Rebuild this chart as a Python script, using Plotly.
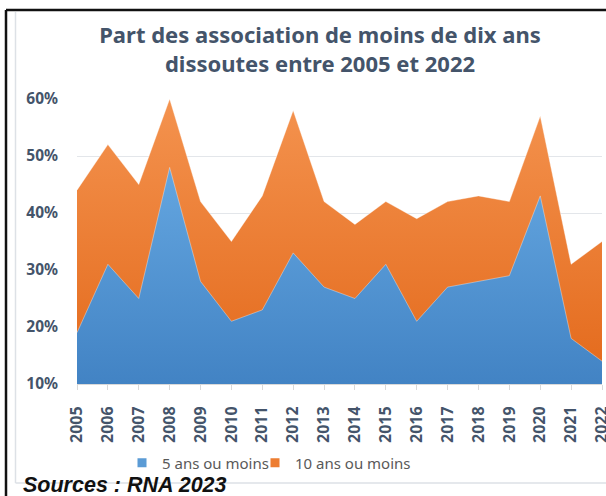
import plotly.graph_objects as go

years = [str(y) for y in range(2005, 2023)]
cinq_ans = [19, 31, 25, 48, 28, 21, 23, 33, 27, 25, 31, 21, 27, 28, 29, 43, 18, 14]
dix_ans = [44, 52, 45, 60, 42, 35, 43, 58, 42, 38, 42, 39, 42, 43, 42, 57, 31, 35]
y_ticks = [10, 20, 30, 40, 50, 60]
y_labels = ["10%", "20%", "30%", "40%", "50%", "60%"]
series_names = ["5 ans ou moins", "10 ans ou moins"]
series_colors = ["#5B9BD5", "#ED7D31"]

fig = go.Figure()
fig.add_trace(go.Scatter(
    x=years, y=dix_ans, name=series_names[1], mode="lines", showlegend=False,
    line=dict(width=0.6, color="rgba(255,255,255,0.6)"), fill="tozeroy",
    fillcolor=series_colors[1],
    fillgradient=dict(type="vertical", start=10, stop=60,
                      colorscale=[[0, "#E3691B"], [1, "#F4934F"]]),
))
fig.add_trace(go.Scatter(
    x=years, y=cinq_ans, name=series_names[0], mode="lines", showlegend=False,
    line=dict(width=0.6, color="rgba(255,255,255,0.6)"), fill="tozeroy",
    fillcolor=series_colors[0],
    fillgradient=dict(type="vertical", start=10, stop=48,
                      colorscale=[[0, "#4283C4"], [1, "#64A6E0"]]),
))
# legend entries (square swatches), one legend box each
for name, color, lg in zip(series_names, series_colors, ["legend", "legend2"]):
    fig.add_trace(go.Scatter(
        x=[None], y=[None], mode="markers", name=name, legend=lg,
        marker=dict(symbol="square", size=9, color=color),
    ))

L, R, T, B = 77, 602, 99, 384
W, H = R - L, B - T
def px(x):
    return (x - L) / W
def py(y):
    return (B - y) / H

shapes = [
    dict(type="line", xref="paper", yref="paper", x0=px(6), x1=px(606), y0=py(10), y1=py(10),
         line=dict(color="#111111", width=2.5)),
    dict(type="line", xref="paper", yref="paper", x0=px(6), x1=px(6), y0=py(10), y1=py(496),
         line=dict(color="#111111", width=2.5)),
    dict(type="line", xref="paper", yref="paper", x0=px(15.5), x1=px(15.5), y0=py(12), y1=py(483),
         line=dict(color="#DDE1E6", width=1.5)),
    dict(type="line", xref="paper", yref="paper", x0=px(15.5), x1=px(606), y0=py(483), y1=py(483),
         line=dict(color="#DDE1E6", width=1.5)),
]

legend_style = dict(
    orientation="h", xref="container", yref="container",
    xanchor="left", y=1 - 463 / 496, yanchor="middle",
    font=dict(family="Noto Sans", size=15, color="#595959"),
    itemwidth=30, bgcolor="rgba(0,0,0,0)",
)

fig.update_layout(
    width=606, height=496,
    margin=dict(l=L, r=606 - R, t=T, b=496 - B, autoexpand=False),
    paper_bgcolor="white", plot_bgcolor="white",
    showlegend=True,
    hovermode=False,
    title=dict(
        text="Part des association de moins de dix ans<br>dissoutes entre 2005 et 2022",
        xref="container", yref="container",
        x=320 / 606, xanchor="center", y=1 - 43 / 496, yanchor="middle",
        font=dict(family="Noto Sans", size=22, color="#44546A", weight="bold"),
    ),
    xaxis=dict(
        type="category", tickangle=-90, range=[0, 17], automargin=False,
        showgrid=False, showline=True, linecolor="#D9D9D9", linewidth=1,
        ticks="outside", ticklen=5, tickcolor="#D9D9D9",
        tickfont=dict(family="Noto Sans", size=16, color="#44546A", weight="bold"),
        ticklabelstandoff=10,
    ),
    yaxis=dict(
        range=[10, 60], tickvals=y_ticks, ticktext=y_labels, automargin=False,
        showgrid=True, gridcolor="#E3E6EA", gridwidth=1,
        zeroline=False, showline=False,
        tickfont=dict(family="Noto Sans", size=15.5, color="#44546A", weight="bold"),
        ticklabelstandoff=18,
    ),
    legend=dict(x=122 / 606, **legend_style),
    legend2=dict(x=255 / 606, **legend_style),
    shapes=shapes,
    annotations=[dict(
        text="<b><i>Sources : RNA 2023</i></b>", xref="paper", yref="paper",
        x=px(21), xanchor="left", y=py(485), yanchor="middle", showarrow=False,
        font=dict(family="Liberation Sans", size=21.5, color="#111111"),
    )],
)

fig.write_html("out.html", config={"displayModeBar": False},
               post_script="document.body.style.margin='0';document.body.style.overflow='hidden';")
